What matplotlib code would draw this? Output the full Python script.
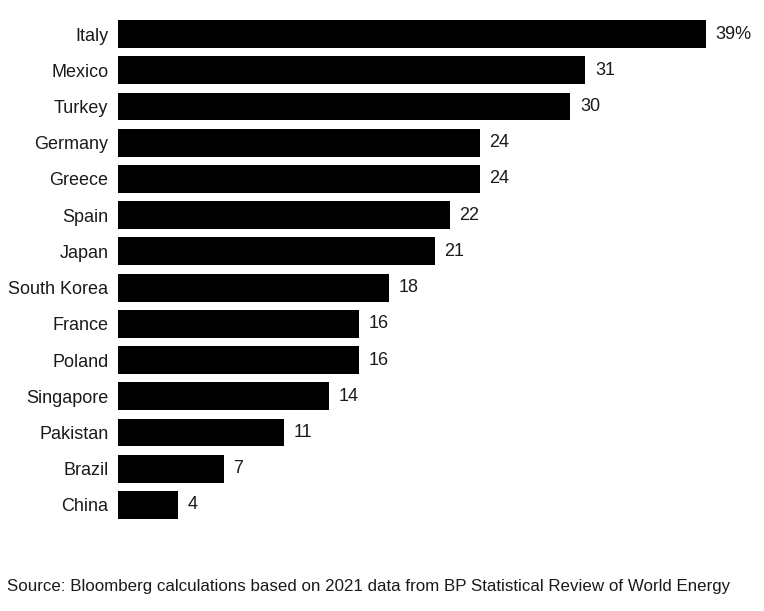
import matplotlib.pyplot as plt

countries = ["Italy", "Mexico", "Turkey", "Germany", "Greece", "Spain", "Japan",
             "South Korea", "France", "Poland", "Singapore", "Pakistan", "Brazil", "China"]
values = [39, 31, 30, 24, 24, 22, 21, 18, 16, 16, 14, 11, 7, 4]
value_labels = ["39%"] + [str(v) for v in values[1:]]

plt.rcParams['font.family'] = ['Liberation Sans', 'DejaVu Sans']
text_color = '#1a1a1a'

fig = plt.figure(figsize=(7.64, 6.11), dpi=100)
W, H = 764, 611
left, right = 118, 706
top, bottom = 16, 523
ax = fig.add_axes([left / W, 1 - bottom / H, (right - left) / W, (bottom - top) / H])

ypos = list(range(len(countries)))
ax.barh(ypos, values, height=0.77, color='black')
ax.set_xlim(0, 39)
ax.set_ylim(len(countries) - 0.5, -0.5)

ax.set_yticks(ypos)
ax.set_yticklabels(countries, fontsize=13, color=text_color)
ax.tick_params(axis='y', length=0, pad=7)
ax.set_xticks([])
for s in ax.spines.values():
    s.set_visible(False)

for y, v, lab in zip(ypos, values, value_labels):
    ax.annotate(lab, (v, y), xytext=(7, 0), textcoords='offset points',
                va='center', ha='left', fontsize=13, color=text_color,
                annotation_clip=False)

fig.text(7 / W, 1 - 587 / H, "Source: Bloomberg calculations based on 2021 data from BP Statistical Review of World Energy",
         fontsize=12.2, color=text_color, va='center', ha='left')

fig.savefig('out.png', dpi=100)
